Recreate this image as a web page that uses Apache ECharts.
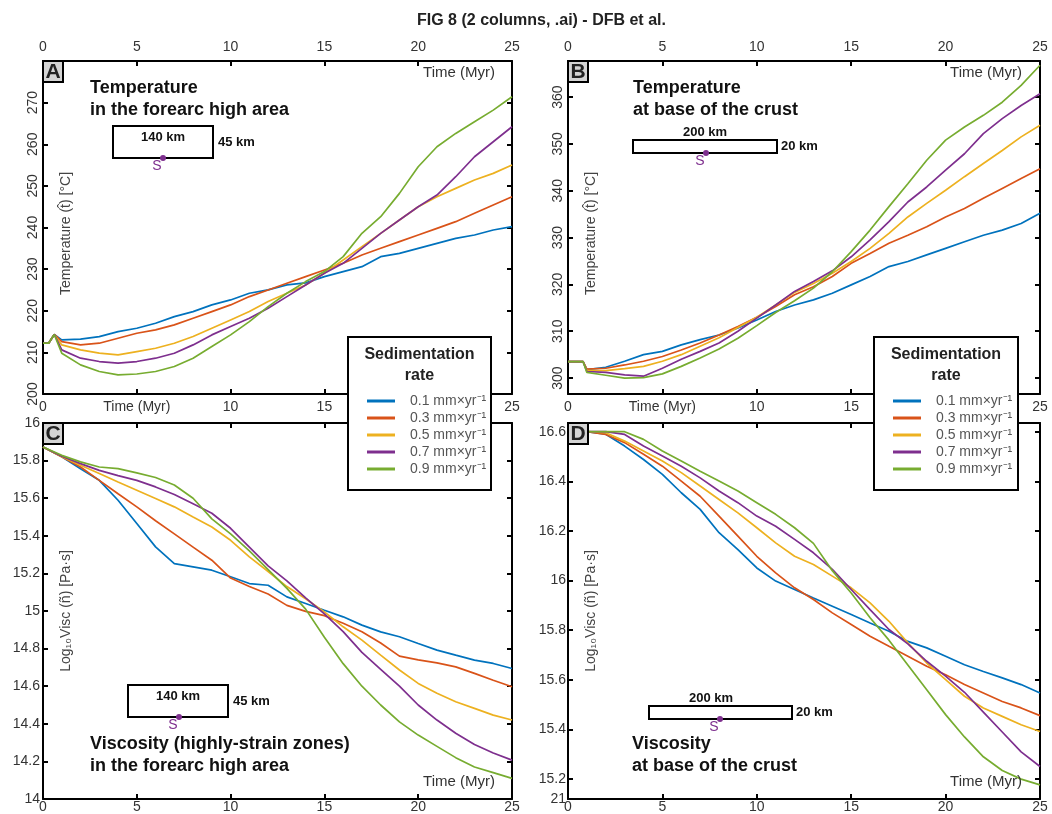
<!DOCTYPE html>
<html>
<head>
<meta charset="utf-8">
<script src="https://cdn.jsdelivr.net/npm/echarts@6/dist/echarts.min.js"></script>
<style>html,body{margin:0;padding:0;background:#fff;}#c{width:1052px;height:814px;}</style>
</head>
<body>
<div id="c"></div>
<script>
// ---------- DATA ----------
const seriesNames = ['0.1 mm×yr⁻¹','0.3 mm×yr⁻¹','0.5 mm×yr⁻¹','0.7 mm×yr⁻¹','0.9 mm×yr⁻¹'];
const xTicks = [0,5,10,15,20,25];

// Panel A: temperature in forearc high area
const timeA = [0,0.3,0.6,1,2,3,4,5,6,7,8,9,10,11,12,13,14,15,16,17,18,19,20,21,22,23,24,25];
const tempA_01 = [212.2,212.2,214.3,213.0,213.2,213.8,215.0,215.8,217.0,218.6,219.8,221.4,222.6,224.2,225.0,226.2,226.7,228.2,229.4,230.6,233.0,233.8,235.0,236.2,237.4,238.2,239.4,240.2];
const tempA_03 = [212.2,212.2,214.3,212.6,211.8,212.2,213.4,214.6,215.4,216.6,218.2,219.8,221.4,223.4,225.0,226.6,228.2,229.8,231.4,233.4,235.0,236.6,238.2,239.8,241.4,243.4,245.4,247.4];
const tempA_05 = [212.2,212.2,214.3,211.8,210.6,209.8,209.4,210.2,211.0,212.2,213.8,215.8,217.8,219.8,222.2,224.2,226.2,229.0,232.2,235.4,238.6,241.8,245.0,247.4,249.4,251.4,253.0,255.0];
const tempA_07 = [212.2,212.2,214.3,210.6,208.6,207.8,207.4,207.8,208.6,209.8,211.8,214.2,216.2,218.2,220.6,223.4,226.2,229.0,231.4,235.0,238.6,241.8,245.0,247.8,252.2,257.0,260.6,264.2];
const tempA_09 = [212.2,212.2,214.3,209.8,207.0,205.4,204.6,204.8,205.4,206.6,208.6,211.4,214.2,217.4,221.0,224.2,227.0,229.4,233.0,238.6,242.6,248.2,254.6,259.4,262.6,265.4,268.2,271.4];

// Panel B: temperature at base of the crust
const timeB = [0,0.8,1,2,3,4,5,6,7,8,9,10,11,12,13,14,15,16,17,18,19,20,21,22,23,24,25];
const tempB_01 = [303.5,303.5,301.8,302.3,303.6,305.0,305.7,307.1,308.2,309.2,310.7,312.4,314.2,315.6,316.7,318.1,319.9,321.7,323.8,324.9,326.3,327.7,329.1,330.5,331.6,333.0,335.2];
const tempB_03 = [303.5,303.5,301.9,302.1,302.8,303.6,304.6,306.0,307.5,309.2,311.0,313.0,315.3,317.8,319.5,321.7,324.5,326.6,328.8,330.5,332.3,334.4,336.2,338.4,340.5,342.6,344.7];
const tempB_05 = [303.5,303.5,301.6,301.6,302.0,302.5,303.6,305.0,306.8,308.6,310.8,313.0,315.6,318.3,320.2,322.4,324.9,327.7,330.9,334.4,337.3,340.1,343.0,345.8,348.6,351.5,354.0];
const tempB_07 = [303.5,303.5,301.4,301.2,300.7,300.4,302.1,304.0,305.7,307.5,310.0,312.8,315.6,318.5,320.6,322.9,325.9,329.5,333.4,337.6,340.8,344.4,347.9,352.2,355.4,358.2,360.7];
const tempB_09 = [303.5,303.5,301.2,300.6,300.0,300.1,300.9,302.5,304.3,306.2,308.5,311.2,314.0,316.5,319.2,322.7,327.0,331.6,336.6,341.5,346.5,350.8,353.6,356.1,358.9,362.5,366.8];

// Panel C: viscosity (highly-strain zones) in forearc high area
const timeC = [0,1,2,3,4,5,6,7,8,9,10,11,12,13,14,15,16,17,18,19,20,21,22,23,24,25];
const viscC_01 = [15.872,15.82,15.757,15.695,15.589,15.465,15.341,15.252,15.235,15.217,15.182,15.146,15.137,15.075,15.04,15.004,14.969,14.925,14.889,14.863,14.827,14.792,14.765,14.739,14.721,14.694];
const viscC_03 = [15.872,15.82,15.766,15.695,15.624,15.554,15.48,15.41,15.34,15.27,15.175,15.13,15.09,15.03,14.998,14.975,14.935,14.89,14.83,14.76,14.74,14.724,14.703,14.668,14.632,14.597];
const viscC_05 = [15.872,15.82,15.775,15.731,15.686,15.642,15.598,15.554,15.5,15.447,15.376,15.288,15.21,15.13,15.065,14.995,14.916,14.845,14.765,14.686,14.615,14.562,14.517,14.482,14.446,14.42];
const viscC_07 = [15.872,15.823,15.784,15.748,15.72,15.695,15.66,15.62,15.57,15.52,15.44,15.34,15.24,15.16,15.07,14.985,14.89,14.78,14.69,14.6,14.5,14.42,14.35,14.29,14.245,14.207];
const viscC_09 = [15.872,15.828,15.793,15.766,15.757,15.735,15.71,15.67,15.6,15.49,15.41,15.32,15.22,15.12,15.01,14.86,14.72,14.6,14.5,14.41,14.34,14.28,14.22,14.17,14.14,14.11];

// Panel D: viscosity at base of the crust
const timeD = [0,1,2,3,4,5,6,7,8,9,10,11,12,13,14,15,16,17,18,19,20,21,22,23,24,25];
const viscD_01 = [16.6,16.6,16.59,16.542,16.488,16.428,16.354,16.287,16.193,16.125,16.051,15.998,15.964,15.93,15.897,15.863,15.829,15.796,15.755,15.729,15.695,15.661,15.634,15.608,15.581,15.547];
const viscD_03 = [16.6,16.6,16.589,16.556,16.509,16.461,16.401,16.34,16.26,16.179,16.098,16.031,15.971,15.924,15.87,15.823,15.776,15.735,15.695,15.655,15.621,15.581,15.547,15.513,15.487,15.456];
const viscD_05 = [16.6,16.6,16.596,16.562,16.522,16.482,16.435,16.381,16.327,16.273,16.213,16.152,16.098,16.065,16.018,15.971,15.91,15.836,15.749,15.668,15.601,15.534,15.487,15.453,15.419,15.392];
const viscD_07 = [16.6,16.6,16.6,16.589,16.542,16.502,16.461,16.414,16.361,16.314,16.26,16.219,16.166,16.112,16.045,15.964,15.883,15.803,15.745,15.675,15.615,15.55,15.47,15.39,15.31,15.251];
const viscD_09 = [16.6,16.6,16.6,16.6,16.569,16.522,16.482,16.441,16.401,16.361,16.314,16.267,16.213,16.15,16.04,15.95,15.85,15.76,15.66,15.56,15.46,15.37,15.29,15.235,15.2,15.177];

// ---------- CHART ----------
const FONT = '"Liberation Sans", Arial, sans-serif';
const colors = ['#0072BD','#D95319','#EDB120','#7E2F8E','#77AC30'];
const panels = [
  {time: timeA, vals: [tempA_01,tempA_03,tempA_05,tempA_07,tempA_09]},
  {time: timeB, vals: [tempB_01,tempB_03,tempB_05,tempB_07,tempB_09]},
  {time: timeC, vals: [viscC_01,viscC_03,viscC_05,viscC_07,viscC_09]},
  {time: timeD, vals: [viscD_01,viscD_03,viscD_05,viscD_07,viscD_09]}
];

const grids = [
  {left: 43, top: 61, width: 469, height: 333},
  {left: 568, top: 61, width: 472, height: 333},
  {left: 43, top: 423, width: 469, height: 376},
  {left: 568, top: 423, width: 472, height: 376}
];

const axLine = {show: true, onZero: false, lineStyle: {color: '#000', width: 2}};
const axTick = {show: true, inside: true, length: 5, lineStyle: {color: '#000', width: 2}};
const lbl = {color: '#333', fontSize: 14, fontFamily: FONT};

function xAx(grid, pos, labels, margin, fmt) {
  return {type: 'value', gridIndex: grid, position: pos, min: 0, max: 25, interval: 5,
    axisLine: axLine, axisTick: axTick, splitLine: {show: false},
    axisLabel: Object.assign({show: labels, margin: margin, formatter: fmt || (v => String(v))}, lbl)};
}
const xAxes = [
  xAx(0,'bottom',true,6,v => v === 5 ? 'Time (Myr)' : String(v)),
  xAx(0,'top',true,7),
  xAx(1,'bottom',true,6,v => v === 5 ? 'Time (Myr)' : String(v)),
  xAx(1,'top',true,7),
  xAx(2,'bottom',true,1),
  xAx(2,'top',false,0),
  xAx(3,'bottom',true,1),
  xAx(3,'top',false,0)
];

const yName = {color: '#444', fontSize: 14, fontFamily: FONT};
const tempName = 'Temperature (t̂) [°C]';
const viscName = 'Log₁₀Visc (ñ) [Pa·s]';

const B_MIN = 296.6, B_MAX = 367.7;
const D_MIN = 15.12, D_MAX = 16.635;
const yAxes = [
  {type:'value', gridIndex:0, position:'left', min:200, max:280, interval:10,
   axisLine: axLine, axisTick: axTick, splitLine:{show:false},
   name: tempName, nameLocation:'middle', nameRotate:90, nameGap:-30, nameTextStyle: Object.assign({padding:[0,12,0,0]}, yName),
   axisLabel: Object.assign({rotate:90, margin:3, showMaxLabel:false}, lbl)},
  {type:'value', gridIndex:0, position:'right', min:200, max:280, interval:10,
   axisLine: axLine, axisTick: axTick, splitLine:{show:false}, axisLabel:{show:false}},
  {type:'value', gridIndex:1, position:'left', min:B_MIN, max:B_MAX, splitNumber:7,
   axisLine: axLine, axisTick: axTick, splitLine:{show:false},
   name: tempName, nameLocation:'middle', nameRotate:90, nameGap:-30, nameTextStyle: Object.assign({padding:[0,12,0,0]}, yName),
   axisLabel: Object.assign({rotate:90, margin:3, formatter: v => (Math.abs(v - Math.round(v/10)*10) < 1e-6 ? String(Math.round(v)) : '')}, lbl)},
  {type:'value', gridIndex:1, position:'right', min:B_MIN, max:B_MAX, splitNumber:7,
   axisLine: axLine, axisTick: axTick, splitLine:{show:false}, axisLabel:{show:false}},
  {type:'value', gridIndex:2, position:'left', min:14, max:16, interval:0.2,
   axisLine: axLine, axisTick: axTick, splitLine:{show:false},
   name: viscName, nameLocation:'middle', nameRotate:90, nameGap:-30, nameTextStyle: yName,
   axisLabel: Object.assign({margin:3, showMinLabel:true, showMaxLabel:true}, lbl)},
  {type:'value', gridIndex:2, position:'right', min:14, max:16, interval:0.2,
   axisLine: axLine, axisTick: axTick, splitLine:{show:false}, axisLabel:{show:false}},
  {type:'value', gridIndex:3, position:'left', min:D_MIN, max:D_MAX, splitNumber:7,
   axisLine: axLine, axisTick: axTick, splitLine:{show:false},
   name: viscName, nameLocation:'middle', nameRotate:90, nameGap:-30, nameTextStyle: yName,
   axisLabel: Object.assign({margin:2, showMinLabel:true, showMaxLabel:true,
     formatter: v => (Math.abs(v - D_MIN) < 1e-6 ? '21' : (Math.abs(v - D_MAX) < 1e-6 ? '' : String(Math.round(v*10)/10)))}, lbl)},
  {type:'value', gridIndex:3, position:'right', min:D_MIN, max:D_MAX, splitNumber:7,
   axisLine: axLine, axisTick: axTick, splitLine:{show:false}, axisLabel:{show:false}}
];

const series = [];
panels.forEach((p, pi) => {
  p.vals.forEach((vals, si) => {
    series.push({
      type: 'line', name: seriesNames[si], xAxisIndex: pi*2, yAxisIndex: pi*2,
      data: p.time.map((t, i) => [t, vals[i]]),
      showSymbol: false, symbol: 'none', animation: false, z: 2,
      lineStyle: {color: colors[si], width: 1.7}, itemStyle: {color: colors[si]}
    });
  });
});

function legendCfg(left) {
  return {show: true, orient: 'vertical', left: left, top: 389, icon: 'rect',
    itemWidth: 28, itemHeight: 3, itemGap: 3, selectedMode: false, z: 30,
    data: seriesNames,
    textStyle: {color: '#555', fontSize: 14, fontFamily: FONT, lineHeight: 14, padding: [0,0,0,10]}};
}

const G = [];
function txt(text, x, y, font, opts) {
  G.push(Object.assign({type:'text', z: 25, style: Object.assign({text: text, x: x, y: y, font: font, fill: '#111', textAlign: 'left', textVerticalAlign: 'middle'}, opts || {})}));
}
const BOLD18 = 'bold 18px ' + FONT, BOLD13 = 'bold 13px ' + FONT, REG15 = '15px ' + FONT;

// panel letter boxes
[['A',43,61],['B',568,61],['C',43,423],['D',568,423]].forEach(b => {
  G.push({type:'rect', z: 24, shape:{x:b[1], y:b[2], width:20, height:21}, style:{fill:'#d4d4d4', stroke:'#000', lineWidth:2}});
  txt(b[0], b[1]+10, b[2]+11, 'bold 21px ' + FONT, {textAlign:'center', fill:'#222'});
});

// panel titles
txt('Temperature', 90, 88, BOLD18);
txt('in the forearc high area', 90, 110, BOLD18);
txt('Temperature', 633, 88, BOLD18);
txt('at base of the crust', 633, 110, BOLD18);
txt('Viscosity (highly-strain zones)', 90, 744, BOLD18);
txt('in the forearc high area', 90, 766, BOLD18);
txt('Viscosity', 632, 744, BOLD18);
txt('at base of the crust', 632, 766, BOLD18);

// Time (Myr) inner labels
txt('Time (Myr)', 495, 73, REG15, {textAlign:'right', fill:'#333'});
txt('Time (Myr)', 1022, 73, REG15, {textAlign:'right', fill:'#333'});
txt('Time (Myr)', 495, 782, REG15, {textAlign:'right', fill:'#333'});
txt('Time (Myr)', 1022, 782, REG15, {textAlign:'right', fill:'#333'});

// schematic boxes
function schematic(rx, ry, rw, rh, wText, wx, wy, hText, hx, hy, dx, dy) {
  G.push({type:'rect', z: 24, shape:{x:rx, y:ry, width:rw, height:rh}, style:{fill:'none', stroke:'#000', lineWidth:2}});
  txt(wText, wx, wy, BOLD13, {textAlign:'center'});
  txt(hText, hx, hy, BOLD13);
  G.push({type:'circle', z: 26, shape:{cx:dx, cy:dy, r:3}, style:{fill:'#7E2F8E'}});
  txt('S', dx-6, dy+8, '14px ' + FONT, {textAlign:'center', fill:'#7E2F8E'});
}
schematic(113,126,100,32,'140 km',163,137,'45 km',218,142,163,158);
schematic(633,140,144,13,'200 km',705,132,'20 km',781,146,706,153);
schematic(128,685,100,32,'140 km',178,696,'45 km',233,701,179,717);
schematic(649,706,143,13,'200 km',711,698,'20 km',796,712,720,719);

// legend boxes + titles
[[348,337,143,153],[874,337,144,153]].forEach(b => {
  G.push({type:'rect', z: 28, shape:{x:b[0], y:b[1], width:b[2], height:b[3]}, style:{fill:'#fff', stroke:'#000', lineWidth:2}});
  txt('Sedimentation', b[0]+b[2]/2, 355, 'bold 16px ' + FONT, {textAlign:'center', fill:'#222'});
  txt('rate', b[0]+b[2]/2, 376, 'bold 16px ' + FONT, {textAlign:'center', fill:'#222'});
});
G.forEach(g => { if (g.type === 'text' && (g.style.text === 'Sedimentation' || g.style.text === 'rate')) g.z = 29; });

const chart = echarts.init(document.getElementById('c'), null, {renderer: 'canvas'});
chart.setOption({
  backgroundColor: '#fff',
  animation: false,
  title: {text: 'FIG 8 (2 columns, .ai) - DFB et al.', left: 412, top: 8,
    textStyle: {fontSize: 16, fontWeight: 'bold', color: '#222', fontFamily: FONT}},
  grid: grids,
  xAxis: xAxes,
  yAxis: yAxes,
  legend: [legendCfg(362), legendCfg(888)],
  graphic: G,
  series: series
});
</script>
</body>
</html>
